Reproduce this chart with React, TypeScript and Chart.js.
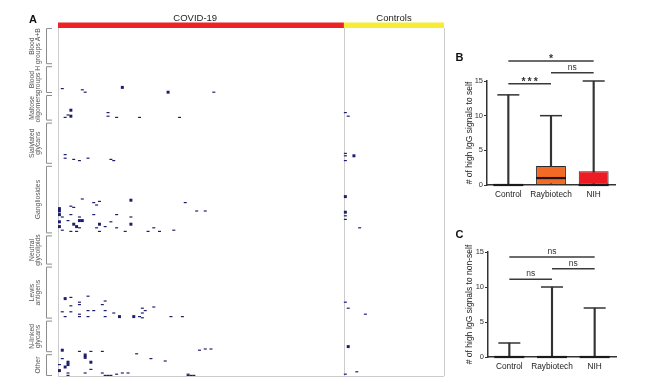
import React, { useEffect, useRef } from 'react';
import { Chart, registerables } from 'chart.js';

Chart.register(...registerables);

const FONT = 'Arial, "Liberation Sans", Helvetica, sans-serif';
Chart.defaults.font.family = FONT;
const MARK = '#1d1d6e';

// ---------- Panel A : heatmap ----------
const cohortNames = ['COVID-19', 'Controls'];
const cohortCols = [100, 35];
const cohortColors = ['#ec2227', '#f8ec34'];
const cohortLabelCol = [48, 117.5];
const ROWS = 290;

const groupLabels: string[][] = [
  ['Blood', 'groups A+B'],
  ['Blood', 'groups H'],
  ['Maltose', 'oligomers'],
  ['Sialylated', 'glycans'],
  ['Gangliosides'],
  ['Neutral', 'glycolipids'],
  ['Lewis', 'antigens'],
  ['N-linked', 'glycans'],
  ['Other'],
];
const groupBounds = [0, 31, 55, 78, 114, 172, 198, 243, 271, 290];

// [column, row] of weak single-row signals
const dashCells: [number, number][] = [
  [1, 50], [8, 51], [9, 53], [54, 53],
  [2, 74], [3, 72], [17, 70], [17, 73], [20, 74], [28, 74], [42, 74], [100, 70], [101, 73],
  [2, 105], [2, 108], [5, 109], [7, 110], [10, 108], [18, 109], [19, 110], [100, 104], [100, 106], [100, 110],
  [8, 142], [4, 148], [5, 149], [12, 145], [14, 144], [13, 147], [44, 145], [48, 152], [51, 152],
  [4, 155], [12, 155], [20, 155], [1, 157], [7, 157], [3, 160], [16, 165], [18, 161], [25, 157],
  [7, 166], [13, 166], [20, 166], [1, 168], [4, 169], [6, 169], [14, 169], [23, 169], [31, 169],
  [33, 166], [35, 169], [40, 168], [100, 156], [100, 159], [105, 166],
  [4, 224], [10, 223], [7, 228], [7, 230], [16, 227], [15, 230], [4, 231], [10, 235], [12, 235],
  [16, 235], [1, 236], [4, 236], [7, 238], [29, 233], [30, 235], [33, 232], [29, 237], [19, 237],
  [2, 240], [7, 240], [10, 240], [16, 240], [28, 240], [29, 241], [39, 240], [43, 240],
  [100, 228], [101, 233], [107, 238],
  [7, 269], [11, 269], [15, 269], [49, 268], [51, 267], [53, 267],
  [27, 271], [32, 275], [37, 277], [11, 284], [1, 275], [0, 280], [3, 287], [3, 289], [9, 287],
  [15, 287], [16, 289], [17, 289], [18, 289], [20, 288], [22, 287], [24, 287], [45, 288],
  [45, 289], [46, 289], [47, 289], [100, 288], [104, 286],
];

// [column, row] of strong signals
const blockCells: [number, number][] = [
  [22, 49], [38, 53],
  [4, 68], [4, 73],
  [103, 106],
  [25, 143], [0, 150], [0, 152], [0, 155], [0, 161], [7, 160], [8, 160], [14, 163], [25, 163],
  [0, 165], [5, 163], [6, 165], [100, 140], [100, 153],
  [2, 225], [21, 240], [26, 240],
  [1, 268], [101, 265],
  [9, 272], [9, 274], [11, 278], [3, 278], [3, 280], [2, 282], [0, 285],
];

// ---------- Panels B & C : box plots ----------
const categories = ['Control', 'Raybiotech', 'NIH'];
const boxFill = ['#ffffff', '#f36a24', '#ed1c24'];
const yTickValues = [0, 5, 10, 15];

const selfMin = [0, 0, 0];
const selfQ1 = [0, 0, 0];
const selfMedian = [0, 1, 0];
const selfQ3 = [0, 2.75, 2];
const selfMax = [13, 10, 15];
const selfSigFrom = [0, 1, 0];
const selfSigTo = [2, 2, 1];
const selfSigY = [17.9, 16.2, 14.6];
const selfSigText = ['*', 'ns', '***'];

const nonSelfMin = [0, 0, 0];
const nonSelfQ1 = [0, 0, 0];
const nonSelfMedian = [0, 0, 0];
const nonSelfQ3 = [0, 0, 0];
const nonSelfMax = [2, 10, 7];
const nonSelfSigFrom = [0, 1, 0];
const nonSelfSigTo = [2, 2, 1];
const nonSelfSigY = [14.3, 12.6, 11.1];
const nonSelfSigText = ['ns', 'ns', 'ns'];

function HeatmapPanel() {
  const ref = useRef<HTMLCanvasElement>(null);
  useEffect(() => {
    if (!ref.current) return;
    const totalCols = cohortCols.reduce((s, v) => s + v, 0);
    const framePlugin = {
      id: 'heatFrame',
      beforeDatasetsDraw(chart: any) {
        const { ctx, chartArea: a, scales } = chart;
        const x = scales.x;
        const y = scales.y;
        ctx.save();
        ctx.strokeStyle = '#cccccc';
        ctx.lineWidth = 1;
        ctx.beginPath();
        const edges = [0];
        let acc = 0;
        cohortCols.forEach((n) => { acc += n; edges.push(acc); });
        edges.forEach((v) => {
          const px = Math.round(x.getPixelForValue(v)) + 0.5;
          ctx.moveTo(px, a.top);
          ctx.lineTo(px, a.bottom);
        });
        const by = Math.round(y.getPixelForValue(ROWS)) + 0.5;
        ctx.moveTo(a.left, by);
        ctx.lineTo(a.right, by);
        ctx.stroke();
        let start = 0;
        cohortCols.forEach((n, i) => {
          const x0 = x.getPixelForValue(start);
          const x1 = x.getPixelForValue(start + n);
          ctx.fillStyle = cohortColors[i];
          ctx.fillRect(x0, a.top - 5.5, x1 - x0, 5.5);
          ctx.fillStyle = '#222';
          ctx.font = `9.5px ${FONT}`;
          ctx.textAlign = 'center';
          ctx.textBaseline = 'alphabetic';
          ctx.fillText(cohortNames[i], x.getPixelForValue(cohortLabelCol[i]), a.top - 7);
          start += n;
        });
        groupLabels.forEach((lines, i) => {
          const y0 = y.getPixelForValue(groupBounds[i]) + (i === 0 ? 0.5 : 1.5);
          const y1 = y.getPixelForValue(groupBounds[i + 1]) - (i === groupLabels.length - 1 ? 0.5 : 1.5);
          const bx = Math.round(a.left - 12) + 0.5;
          ctx.strokeStyle = '#8c8c8c';
          ctx.lineWidth = 1;
          ctx.beginPath();
          ctx.moveTo(a.left - 6, y0);
          ctx.lineTo(bx, y0);
          ctx.lineTo(bx, y1);
          ctx.lineTo(a.left - 6, y1);
          ctx.stroke();
          const cy = (y0 + y1) / 2;
          ctx.save();
          ctx.translate(a.left - 19.5, cy);
          ctx.rotate(-Math.PI / 2);
          ctx.font = `6.8px ${FONT}`;
          ctx.fillStyle = '#555';
          ctx.textAlign = 'center';
          ctx.textBaseline = 'middle';
          lines.forEach((t, j) => ctx.fillText(t, 0, -(lines.length - 1 - j) * 6.8));
          ctx.restore();
        });
        ctx.fillStyle = '#111';
        ctx.font = `bold 11px ${FONT}`;
        ctx.textAlign = 'center';
        ctx.textBaseline = 'middle';
        ctx.fillText('A', 33, 20);
        ctx.restore();
      },
    };
    const chart = new Chart(ref.current, {
      type: 'scatter',
      data: {
        datasets: [
          {
            data: dashCells.map(([c, r]) => ({ x: c + 0.5, y: r + 0.5 })),
            pointStyle: 'line',
            pointRadius: 1.5,
            pointHoverRadius: 1.5,
            pointBorderWidth: 1.2,
            borderColor: MARK,
            backgroundColor: MARK,
          } as any,
          {
            data: blockCells.map(([c, r]) => ({ x: c + 0.5, y: r + 0.5 })),
            pointStyle: 'rect',
            pointRadius: 2.1,
            pointHoverRadius: 2.1,
            pointBorderWidth: 0,
            borderColor: MARK,
            backgroundColor: MARK,
          } as any,
        ],
      },
      options: {
        responsive: false,
        animation: false,
        events: [],
        layout: { padding: { left: 58, right: 6, top: 28, bottom: 13 } },
        plugins: { legend: { display: false }, tooltip: { enabled: false } },
        scales: {
          x: { type: 'linear', display: false, min: 0, max: totalCols },
          y: { type: 'linear', display: false, min: 0, max: ROWS, reverse: true },
        },
      },
      plugins: [framePlugin],
    });
    return () => chart.destroy();
  }, []);
  return (
    <canvas ref={ref} width={450} height={389} style={{ position: 'absolute', left: 0, top: 0 }} />
  );
}

interface BoxProps {
  left: number;
  top: number;
  width: number;
  height: number;
  padTop: number;
  padRight: number;
  yAxisWidth: number;
  xAxisHeight: number;
  title: string;
  letter: string;
  letterY: number;
  min: number[];
  q1: number[];
  median: number[];
  q3: number[];
  max: number[];
  sigFrom: number[];
  sigTo: number[];
  sigY: number[];
  sigText: string[];
}

function BoxPanel(p: BoxProps) {
  const ref = useRef<HTMLCanvasElement>(null);
  useEffect(() => {
    if (!ref.current) return;
    const sigPlugin = {
      id: 'sigBrackets',
      afterDatasetsDraw(chart: any) {
        const { ctx, scales } = chart;
        const x = scales.x;
        const y = scales.y;
        ctx.save();
        p.sigText.forEach((t, i) => {
          const x1 = x.getPixelForValue(p.sigFrom[i]);
          const x2 = x.getPixelForValue(p.sigTo[i]);
          const py = y.getPixelForValue(p.sigY[i]);
          ctx.strokeStyle = '#3a3a3a';
          ctx.lineWidth = 1.5;
          ctx.beginPath();
          ctx.moveTo(x1, py);
          ctx.lineTo(x2, py);
          ctx.stroke();
          const cx = (x1 + x2) / 2;
          ctx.fillStyle = '#333';
          ctx.textAlign = 'center';
          ctx.textBaseline = 'alphabetic';
          if (t.startsWith('*')) {
            ctx.font = `bold 10.5px ${FONT}`;
            const n = t.length;
            for (let k = 0; k < n; k++) {
              ctx.fillText('*', cx + (k - (n - 1) / 2) * 6.2, py + 1.5);
            }
          } else {
            ctx.font = `8.5px ${FONT}`;
            ctx.fillText(t, cx, py - 3);
          }
        });
        ctx.fillStyle = '#111';
        ctx.font = `bold 11px ${FONT}`;
        ctx.textAlign = 'center';
        ctx.textBaseline = 'middle';
        ctx.fillText(p.letter, 19.5, p.letterY);
        ctx.restore();
      },
    };
    const chart = new Chart(ref.current, {
      type: 'bar',
      data: {
        labels: categories,
        datasets: [
          {
            type: 'bar',
            data: p.min.map((v, i) => [v, p.max[i]]),
            backgroundColor: '#333',
            barThickness: 1.5,
            grouped: false,
            order: 3,
          } as any,
          {
            type: 'bar',
            data: p.q1.map((v, i) => [v, p.q3[i]]),
            backgroundColor: boxFill,
            borderColor: '#2a2a2a',
            borderWidth: 1,
            borderSkipped: false,
            barPercentage: 0.7,
            categoryPercentage: 1,
            grouped: false,
            order: 2,
          } as any,
          {
            type: 'line',
            data: p.median,
            showLine: false,
            pointStyle: 'line',
            pointRadius: 15,
            pointHoverRadius: 15,
            pointBorderWidth: 2.2,
            borderColor: '#1a1a1a',
            pointBorderColor: '#1a1a1a',
            clip: false,
            order: 1,
          } as any,
          {
            type: 'line',
            data: p.max,
            showLine: false,
            pointStyle: 'line',
            pointRadius: 11,
            pointHoverRadius: 11,
            pointBorderWidth: 1.5,
            borderColor: '#333',
            pointBorderColor: '#333',
            clip: false,
            order: 1,
          } as any,
        ],
      },
      options: {
        responsive: false,
        animation: false,
        events: [],
        layout: { padding: { left: 0, right: p.padRight, top: p.padTop, bottom: 0 } },
        plugins: { legend: { display: false }, tooltip: { enabled: false } },
        scales: {
          x: {
            type: 'category',
            offset: true,
            grid: { display: false, drawTicks: false, tickLength: 0 },
            border: { display: true, color: '#333', width: 1.5 },
            ticks: {
              color: '#222',
              font: { size: 8.3, family: FONT },
              padding: 5,
              maxRotation: 0,
              minRotation: 0,
              autoSkip: false,
            },
            afterFit: (s: any) => { s.height = p.xAxisHeight; },
          },
          y: {
            type: 'linear',
            min: 0,
            max: 15,
            grid: { drawOnChartArea: false, drawTicks: true, tickLength: 3, color: '#333', lineWidth: 1 },
            border: { display: true, color: '#333', width: 1.5 },
            ticks: { color: '#333', font: { size: 7.5, family: FONT }, padding: 1 },
            afterBuildTicks: (s: any) => { s.ticks = yTickValues.map((v) => ({ value: v })); },
            afterFit: (s: any) => { s.width = p.yAxisWidth; },
            title: {
              display: true,
              text: p.title,
              color: '#222',
              font: { size: 8.5, family: FONT },
              padding: { top: 25, bottom: 0 },
            },
          },
        },
      },
      plugins: [sigPlugin],
    });
    return () => chart.destroy();
  }, []);
  return (
    <canvas
      ref={ref}
      width={p.width}
      height={p.height}
      style={{ position: 'absolute', left: p.left, top: p.top }}
    />
  );
}

export default function App() {
  return (
    <div
      style={{
        position: 'fixed',
        left: 0,
        top: 0,
        width: 650,
        height: 389,
        background: '#ffffff',
        overflow: 'hidden',
      }}
    >
      <HeatmapPanel />
      <BoxPanel
        left={440}
        top={0}
        width={210}
        height={210}
        padTop={81}
        padRight={35}
        yAxisWidth={47}
        xAxisHeight={25}
        title="# of high IgG signals to self"
        letter="B"
        letterY={58}
        min={selfMin}
        q1={selfQ1}
        median={selfMedian}
        q3={selfQ3}
        max={selfMax}
        sigFrom={selfSigFrom}
        sigTo={selfSigTo}
        sigY={selfSigY}
        sigText={selfSigText}
      />
      <BoxPanel
        left={440}
        top={210}
        width={210}
        height={179}
        padTop={42}
        padRight={34}
        yAxisWidth={48}
        xAxisHeight={32}
        title="# of high IgG signals to non-self"
        letter="C"
        letterY={25}
        min={nonSelfMin}
        q1={nonSelfQ1}
        median={nonSelfMedian}
        q3={nonSelfQ3}
        max={nonSelfMax}
        sigFrom={nonSelfSigFrom}
        sigTo={nonSelfSigTo}
        sigY={nonSelfSigY}
        sigText={nonSelfSigText}
      />
    </div>
  );
}
